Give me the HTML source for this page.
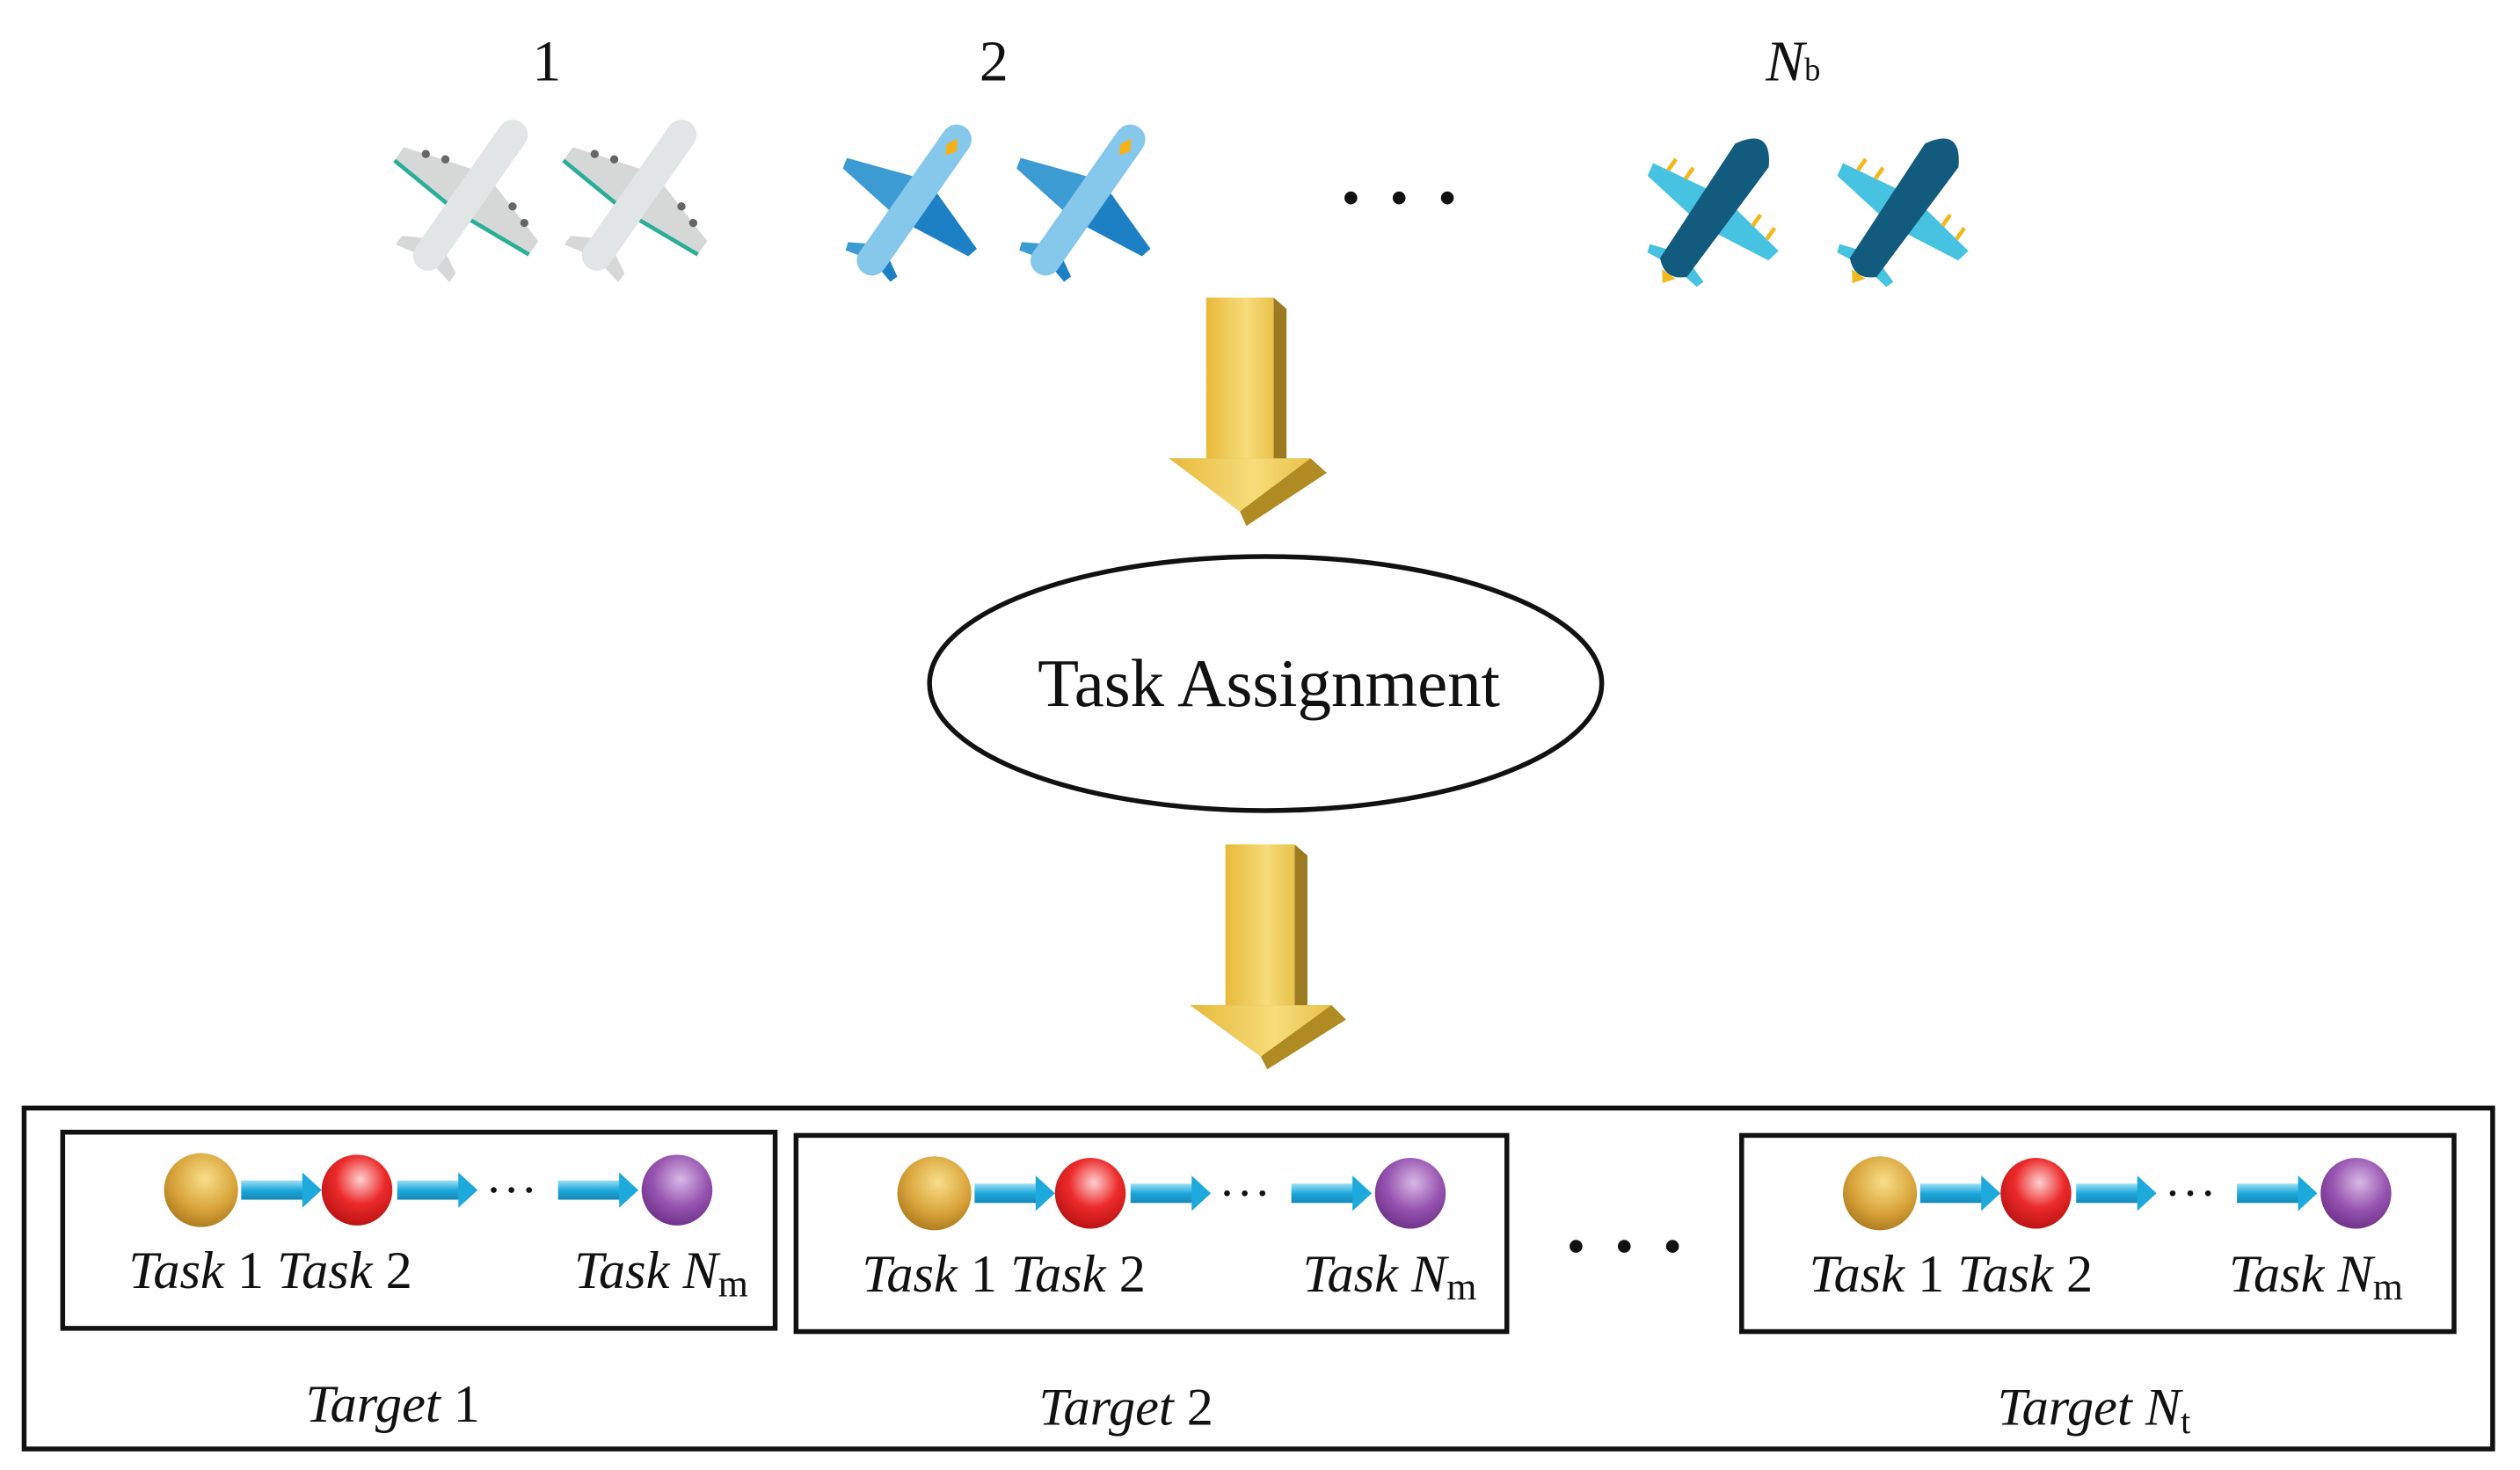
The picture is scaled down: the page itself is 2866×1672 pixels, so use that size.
<!DOCTYPE html>
<html><head><style>
html,body{margin:0;padding:0;background:#fff;}
svg{display:block;}
text{font-family:"Liberation Serif",serif;fill:#111;}
</style></head><body>
<svg width="2866" height="1672" viewBox="0 0 1567 914" xmlns="http://www.w3.org/2000/svg">
<defs>
<radialGradient id="gold" cx="0.55" cy="0.35" r="0.7"><stop offset="0" stop-color="#f8de8a"/><stop offset="0.6" stop-color="#d9a43a"/><stop offset="1" stop-color="#a8761c"/></radialGradient>
<radialGradient id="red" cx="0.55" cy="0.35" r="0.7"><stop offset="0" stop-color="#ffd0d0"/><stop offset="0.5" stop-color="#ec2a2a"/><stop offset="1" stop-color="#b51010"/></radialGradient>
<radialGradient id="pur" cx="0.55" cy="0.35" r="0.7"><stop offset="0" stop-color="#d9b8e6"/><stop offset="0.55" stop-color="#9654b0"/><stop offset="1" stop-color="#6a2e86"/></radialGradient>
<linearGradient id="ya" x1="0" x2="1"><stop offset="0" stop-color="#e8b93a"/><stop offset="0.6" stop-color="#f6dc7a"/><stop offset="1" stop-color="#e9c24a"/></linearGradient>
<linearGradient id="ba" x1="0" y1="0" x2="0" y2="1"><stop offset="0" stop-color="#9ee0f5"/><stop offset="0.5" stop-color="#1ea9dc"/><stop offset="1" stop-color="#1688b8"/></linearGradient>
<g id="pg">
 <polygon points="-8,-18 -60,-2 -60,10 -8,14" fill="#d6d8d8"/>
 <polygon points="8,-18 60,-2 60,10 8,14" fill="#d6d8d8"/>
 <line x1="-60" y1="10" x2="-8" y2="14" stroke="#2aae96" stroke-width="3"/>
 <line x1="60" y1="10" x2="8" y2="14" stroke="#2aae96" stroke-width="3"/>
 <circle cx="-30" cy="-12" r="3" fill="#666"/><circle cx="-44" cy="-7" r="3" fill="#666"/>
 <circle cx="30" cy="-12" r="3" fill="#666"/><circle cx="44" cy="-7" r="3" fill="#666"/>
 <polygon points="-6,42 -24,52 -24,60 -6,56" fill="#d6d8d8"/>
 <polygon points="6,42 24,52 24,60 6,56" fill="#d6d8d8"/>
 <rect x="-11" y="-66" width="22" height="130" rx="11" fill="#e2e5e5"/>
</g>
<g id="pb">
 <polygon points="-7,-16 -58,2 -56,10 -8,16" fill="#3d9bd3"/>
 <polygon points="7,-16 58,2 56,10 8,16" fill="#1d7fc4"/>
 <polygon points="-5,42 -22,52 -20,58 -5,54" fill="#3d9bd3"/>
 <polygon points="5,42 22,52 20,58 5,54" fill="#1d7fc4"/>
 <rect x="-11" y="-66" width="22" height="130" rx="11" fill="#86c7ec"/>
 <polygon points="0,-56 5,-48 0,-41 -4,-48" fill="#f7b018"/>
</g>
<g id="pd">
 <polygon points="-8,-10 -56,-2 -54,8 -9,14" fill="#46c3e0"/>
 <polygon points="8,-10 56,-2 54,8 9,14" fill="#46c3e0"/>
 <polygon points="-6,42 -24,48 -22,54 -6,52" fill="#46c3e0"/>
 <polygon points="6,42 24,48 22,54 6,52" fill="#46c3e0"/>
 <g stroke="#f5b81a" stroke-width="3"><line x1="-30" y1="-6" x2="-30" y2="-16"/><line x1="-44" y1="-4" x2="-44" y2="-14"/><line x1="30" y1="-6" x2="30" y2="-16"/><line x1="44" y1="-4" x2="44" y2="-14"/></g>
 <path d="M-15,-48 Q0,-74 15,-48 L12,52 Q0,64 -12,52 Z" fill="#135b7e"/>
 <path d="M-6,58 L6,58 L0,66 Z" fill="#f5b81a"/>
</g>
<g id="sa"><rect x="0" y="-6" width="40" height="12" fill="url(#ba)"/><polygon points="38,-11 50,0 38,11" fill="#1ea9dc"/></g>
<g id="chain">
 <circle cx="0" cy="0" r="23" fill="url(#gold)"/>
 <use href="#sa" x="25" y="0"/>
 <circle cx="97" cy="0" r="22" fill="url(#red)"/>
 <use href="#sa" x="122" y="0"/>
 <circle cx="182" cy="0" r="1.8" fill="#111"/><circle cx="193" cy="0" r="1.8" fill="#111"/><circle cx="204" cy="0" r="1.8" fill="#111"/>
 <use href="#sa" x="222" y="0"/>
 <circle cx="296" cy="0" r="22" fill="url(#pur)"/>
</g>
</defs>

<text x="340" y="50" font-size="36" text-anchor="middle">1</text>
<text x="618" y="50" font-size="36" text-anchor="middle">2</text>
<text x="1115" y="50" font-size="36" text-anchor="middle" font-style="italic">N<tspan font-size="20" font-style="normal">b</tspan></text>

<use href="#pg" transform="translate(292,122) rotate(35) scale(0.85)"/>
<use href="#pg" transform="translate(397,122) rotate(35) scale(0.85)"/>
<use href="#pb" transform="translate(568,125) rotate(35) scale(0.85)"/>
<use href="#pb" transform="translate(676,125) rotate(35) scale(0.85)"/>
<use href="#pd" transform="translate(1066,130) rotate(35) scale(0.85)"/>
<use href="#pd" transform="translate(1184,130) rotate(35) scale(0.85)"/>
<circle cx="840" cy="123" r="4" fill="#111"/><circle cx="870" cy="123" r="4" fill="#111"/><circle cx="900" cy="123" r="4" fill="#111"/>

<g>
 <polygon points="792,185 800,192 800,290 792,285" fill="#9c7a22"/>
 <rect x="750" y="185" width="42" height="100" fill="url(#ya)"/>
 <polygon points="727,285 815,285 825,294 775,327 771,318" fill="#b08a22"/>
 <polygon points="727,285 815,285 771,318" fill="url(#ya)"/>
</g>
<g>
 <polygon points="805,525 813,532 813,630 805,625" fill="#9c7a22"/>
 <rect x="762" y="525" width="43" height="100" fill="url(#ya)"/>
 <polygon points="740,625 828,625 837,634 788,665 784,657" fill="#b08a22"/>
 <polygon points="740,625 828,625 784,657" fill="url(#ya)"/>
</g>

<ellipse cx="787" cy="425" rx="209" ry="79" fill="none" stroke="#111" stroke-width="3"/>
<text x="789" y="439" font-size="42" text-anchor="middle">Task Assignment</text>

<rect x="15" y="689" width="1535" height="212" fill="none" stroke="#111" stroke-width="3"/>
<rect x="39" y="704" width="443" height="122" fill="none" stroke="#111" stroke-width="3"/>
<rect x="495" y="706" width="442" height="122" fill="none" stroke="#111" stroke-width="3"/>
<rect x="1083" y="706" width="443" height="122" fill="none" stroke="#111" stroke-width="3"/>

<use href="#chain" x="125" y="740"/>
<use href="#chain" x="581" y="742"/>
<use href="#chain" x="1169" y="742"/>

<g font-size="33" font-style="italic">
 <text x="80" y="801">Task <tspan font-style="normal">1</tspan> Task <tspan font-style="normal">2</tspan></text>
 <text x="357" y="801">Task N<tspan font-size="24" font-style="normal" dy="5">m</tspan></text>
 <text x="536" y="803">Task <tspan font-style="normal">1</tspan> Task <tspan font-style="normal">2</tspan></text>
 <text x="810" y="803">Task N<tspan font-size="24" font-style="normal" dy="5">m</tspan></text>
 <text x="1125" y="803">Task <tspan font-style="normal">1</tspan> Task <tspan font-style="normal">2</tspan></text>
 <text x="1386" y="803">Task N<tspan font-size="24" font-style="normal" dy="5">m</tspan></text>
 <text x="190" y="884">Target <tspan font-style="normal">1</tspan></text>
 <text x="646" y="886">Target <tspan font-style="normal">2</tspan></text>
 <text x="1242" y="886">Target N<tspan font-size="22" font-style="normal" dy="5">t</tspan></text>
</g>
<circle cx="980" cy="775" r="4" fill="#111"/><circle cx="1010" cy="775" r="4" fill="#111"/><circle cx="1040" cy="775" r="4" fill="#111"/>
</svg>
</body></html>
